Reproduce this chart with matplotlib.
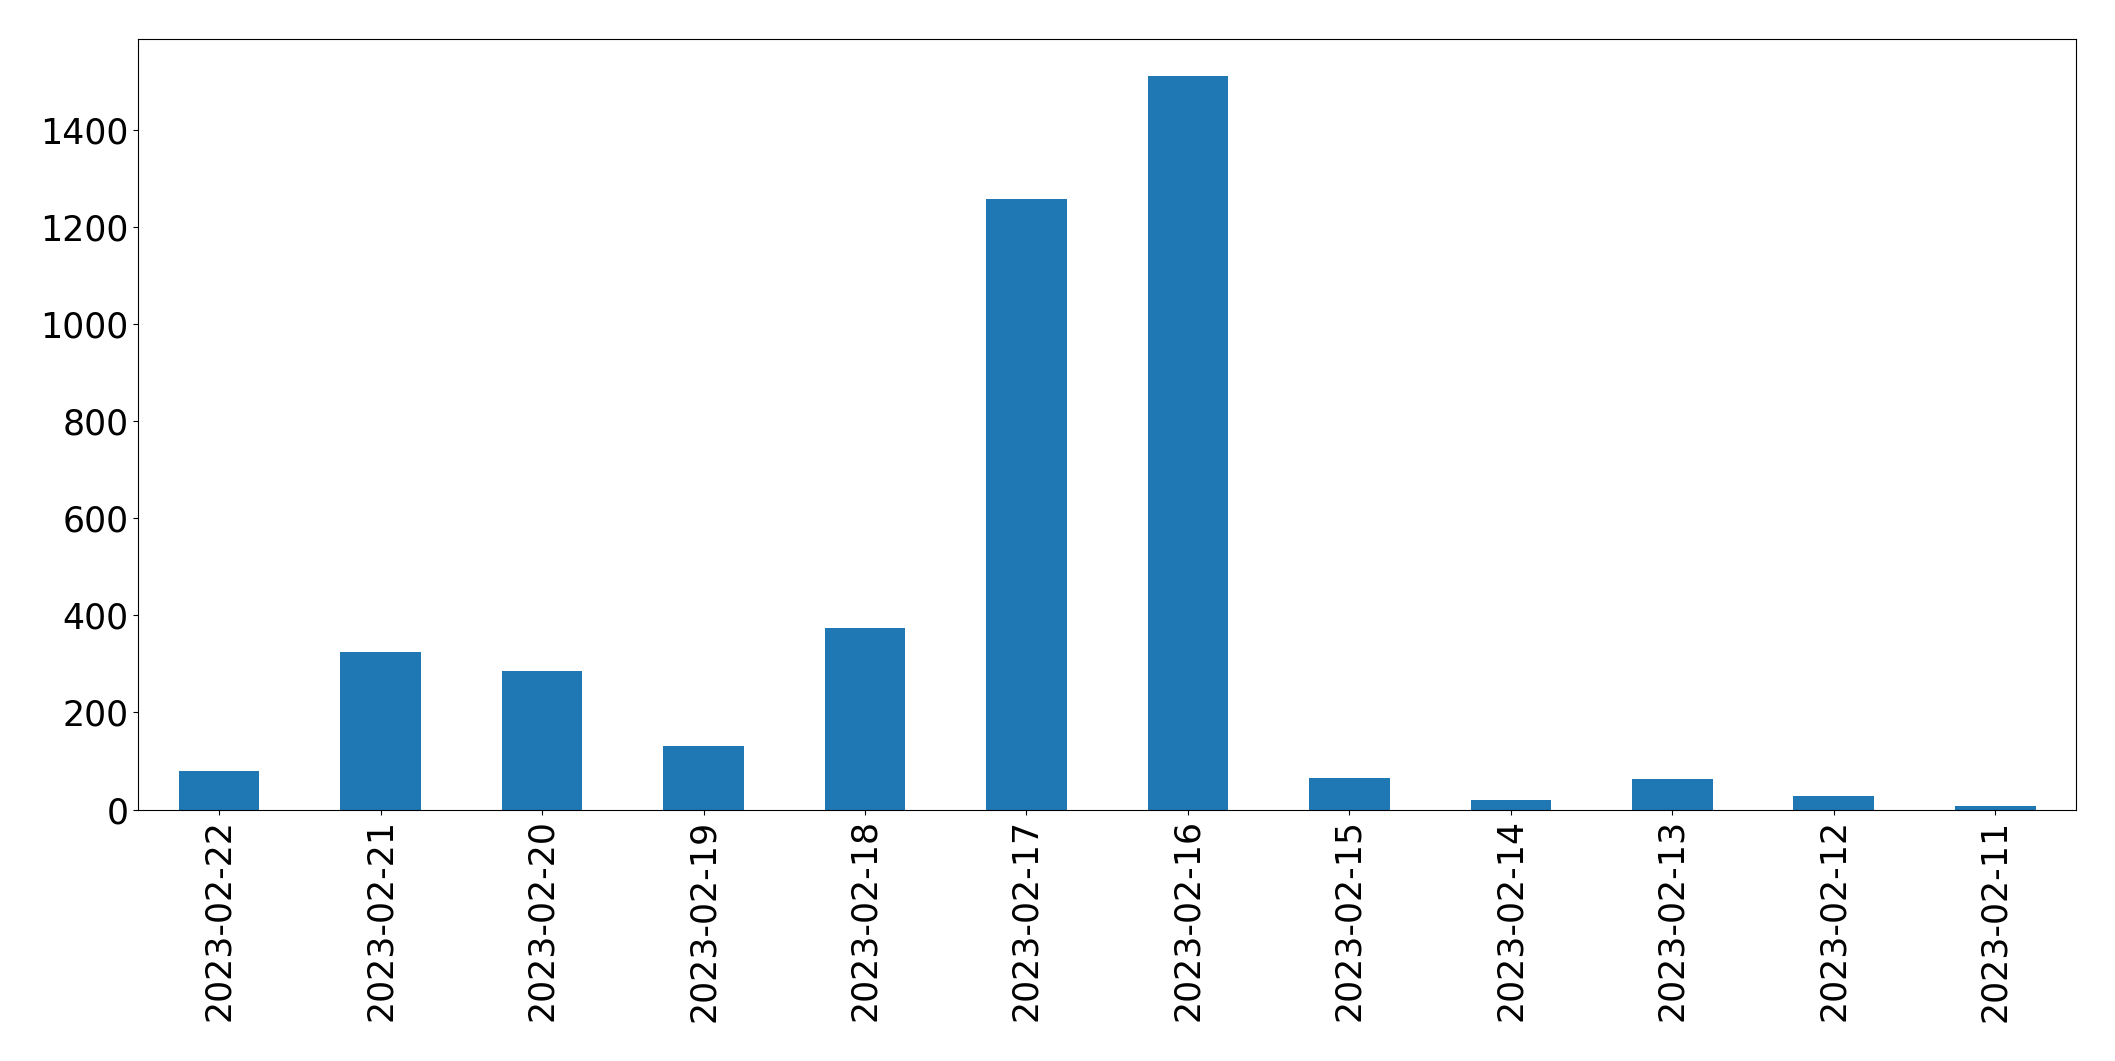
import matplotlib
matplotlib.use("Agg")
import matplotlib.pyplot as plt

dates = ['2023-02-22', '2023-02-21', '2023-02-20', '2023-02-19', '2023-02-18', '2023-02-17',
         '2023-02-16', '2023-02-15', '2023-02-14', '2023-02-13', '2023-02-12', '2023-02-11']
counts = [79, 324, 285, 131, 374, 1258, 1511, 65, 20, 63, 28, 7]

fig = plt.figure(figsize=(21.15, 10.61), dpi=100)
ax = fig.add_axes([0.0654, 0.237, 0.9162, 0.726])

x = range(len(dates))
ax.bar(x, counts, width=0.5, color='#1f77b4')
ax.set_xlim(-0.5, len(dates) - 0.5)
ax.set_xticks(list(x))
ax.set_xticklabels(dates, rotation=90)
ax.tick_params(axis='both', labelsize=25)

fig.savefig('out.png', dpi=100)
